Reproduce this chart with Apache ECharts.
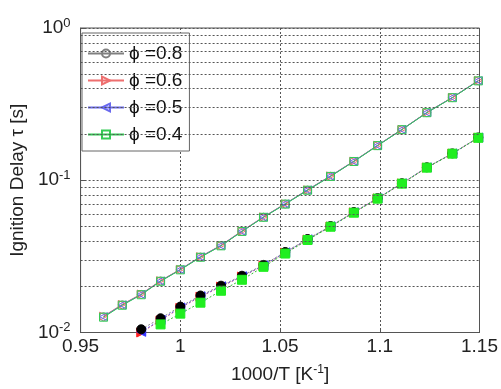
<!DOCTYPE html>
<html>
<head>
<meta charset="utf-8">
<script src="https://cdn.jsdelivr.net/npm/echarts@6/dist/echarts.min.js"></script>
<style>
  html, body { margin: 0; padding: 0; background: #fff; }
  #main { width: 501px; height: 389px; }
</style>
</head>
<body>
<div id="main"></div>
<script>
// 1000/T values (T = 1040 ... 870 K)
const invT = [0.9615, 0.9709, 0.9804, 0.9901, 1.0, 1.0101, 1.0204, 1.0309, 1.0417,
  1.0526, 1.0638, 1.0753, 1.0870, 1.0989, 1.1111, 1.1236, 1.1364, 1.1494];

// upper group (open markers, solid lines)
const up08 = [0.0127, 0.0152, 0.0178, 0.0218, 0.0259, 0.0313, 0.0372, 0.0462, 0.0572,
  0.0698, 0.0862, 0.1062, 0.1330, 0.1690, 0.2150, 0.2780, 0.3490, 0.4500];
const up06 = [0.0128, 0.0153, 0.0179, 0.0219, 0.0260, 0.0315, 0.0374, 0.0465, 0.0575,
  0.0702, 0.0866, 0.1068, 0.1336, 0.1698, 0.2160, 0.2790, 0.3500, 0.4520];
const up05 = [0.0127, 0.0152, 0.0178, 0.0218, 0.0259, 0.0314, 0.0373, 0.0463, 0.0573,
  0.0700, 0.0864, 0.1065, 0.1333, 0.1694, 0.2155, 0.2785, 0.3495, 0.4510];
const up04 = [0.0126, 0.0151, 0.0177, 0.0217, 0.0258, 0.0312, 0.0371, 0.0461, 0.0571,
  0.0697, 0.0860, 0.1060, 0.1328, 0.1688, 0.2148, 0.2778, 0.3485, 0.4495];

// lower group (filled markers, dotted lines)
const lo08 = [null, null, 0.0105, 0.0124, 0.0148, 0.0175, 0.0203, 0.0236, 0.0278,
  0.0338, 0.0411, 0.0500, 0.0618, 0.0763, 0.0956, 0.1216, 0.1501, 0.1910];
const lo06 = [null, null, 0.0100, 0.0120, 0.0145, 0.0172, 0.0200, 0.0233, 0.0275,
  0.0335, 0.0408, 0.0497, 0.0615, 0.0760, 0.0953, 0.1212, 0.1497, 0.1905];
const lo05 = [null, null, 0.0101, 0.0121, 0.0146, 0.0173, 0.0201, 0.0234, 0.0276,
  0.0336, 0.0409, 0.0498, 0.0616, 0.0761, 0.0954, 0.1214, 0.1499, 0.1907];
const lo04 = [null, null, null, 0.0113, 0.0133, 0.0157, 0.0188, 0.0222, 0.0270,
  0.0330, 0.0405, 0.0495, 0.0612, 0.0757, 0.0950, 0.1210, 0.1495, 0.1900];

const legendNames = ["\u03d5 =0.8", "\u03d5 =0.6", "\u03d5 =0.5", "\u03d5 =0.4"];
const minorGrid = [0.02, 0.03, 0.04, 0.05, 0.06, 0.07, 0.08, 0.09,
  0.2, 0.3, 0.4, 0.5, 0.6, 0.7, 0.8, 0.9];

const font = "Liberation Sans, Arial, sans-serif";
const gridLine = { type: [2, 2], color: "#555", width: 1 };

function pairs(ys) {
  return invT.map((x, i) => [x, ys[i]]).filter(p => p[1] != null);
}

function upper(name, ys, color, symbol, rot) {
  return {
    name: name, type: "line", data: pairs(ys),
    symbol: symbol, symbolSize: 8, symbolRotate: rot,
    color: color,
    lineStyle: { color: color, width: 1 },
    itemStyle: { color: "rgba(255,255,255,0)", borderColor: color, borderWidth: 1 },
    animation: false, z: 3
  };
}

function lower(name, ys, color, fill, symbol, rot) {
  return {
    name: name, type: "line", data: pairs(ys),
    symbol: symbol, symbolSize: 9, symbolRotate: rot,
    color: color,
    lineStyle: { color: color, width: 1, type: [2, 2] },
    itemStyle: { color: fill, borderColor: fill, borderWidth: 1 },
    animation: false, z: 2
  };
}

const chart = echarts.init(document.getElementById("main"));

chart.setOption({
  backgroundColor: "#fff",
  textStyle: { fontFamily: font },
  grid: {
    left: 77, right: 21, top: 28, bottom: 55,
    show: true, borderColor: "#555", borderWidth: 1
  },
  legend: {
    data: legendNames,
    orient: "vertical",
    left: 82, top: 33,
    itemWidth: 36, itemHeight: 10, itemGap: 8,
    padding: [11, 7, 7, 5],
    backgroundColor: "#fff",
    borderColor: "#666", borderWidth: 1,
    textStyle: { fontFamily: font, fontSize: 19, color: "#111" }
  },
  xAxis: {
    type: "value",
    min: 0.95, max: 1.15, interval: 0.05,
    name: "1000/T [K{sup|-1}]",
    nameLocation: "middle", nameGap: 31,
    nameTextStyle: {
      fontFamily: font, fontSize: 19, color: "#222",
      rich: { sup: { fontSize: 12, verticalAlign: "top", padding: [0, 0, 10, 0] } }
    },
    axisLine: { show: true, lineStyle: { color: "#555" } },
    axisTick: { inside: true, length: 4, lineStyle: { color: "#555" } },
    axisLabel: { fontFamily: font, fontSize: 19, color: "#222", margin: 5 },
    splitLine: { show: true, lineStyle: gridLine }
  },
  yAxis: {
    type: "log", logBase: 10,
    min: 0.01, max: 1,
    name: "Ignition Delay \u03c4 [s]",
    nameLocation: "middle", nameGap: 47,
    nameTextStyle: { fontFamily: font, fontSize: 19, color: "#222" },
    axisLine: { show: true, lineStyle: { color: "#555" } },
    axisTick: { inside: true, length: 5, lineStyle: { color: "#555" } },
    axisLabel: {
      fontFamily: font, fontSize: 19, color: "#222", margin: 10,
      formatter: v => "10{sup|" + Math.round(Math.log10(v)) + "}",
      rich: { sup: { fontSize: 13, verticalAlign: "top", padding: [0, 0, 10, 0] } }
    },
    splitLine: { show: true, lineStyle: gridLine }
  },
  series: [
    upper(legendNames[0], up08, "#808080", "circle", 0),
    upper(legendNames[1], up06, "#ee6f6f", "triangle", -90),
    upper(legendNames[2], up05, "#6a6aee", "triangle", 90),
    upper(legendNames[3], up04, "#33cc55", "rect", 0),
    lower(legendNames[1], lo06, "#f06060", "#ff2020", "triangle", -90),
    lower(legendNames[2], lo05, "#6060f0", "#3030ff", "triangle", 90),
    lower(legendNames[0], lo08, "#888", "#000", "circle", 0),
    lower(legendNames[3], lo04, "#30c030", "#20ee20", "rect", 0),
    {
      name: "grid", type: "line", data: [], silent: true, animation: false,
      markLine: {
        silent: true, symbol: ["none", "none"], animation: false,
        label: { show: false },
        lineStyle: gridLine,
        data: minorGrid.map(v => ({ yAxis: v }))
      }
    }
  ]
});
</script>
</body>
</html>
